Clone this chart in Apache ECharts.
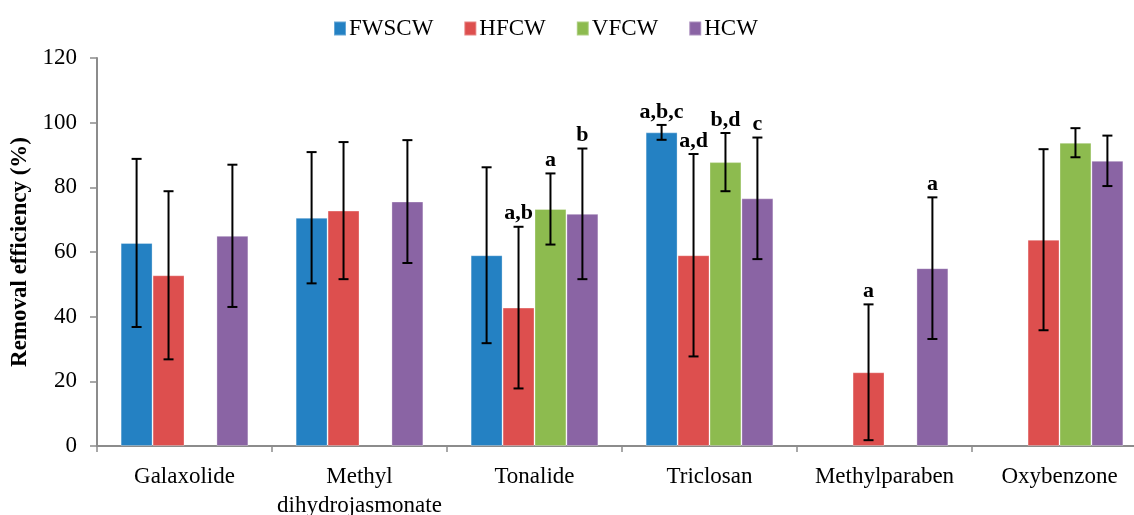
<!DOCTYPE html>
<html>
<head>
<meta charset="utf-8">
<script src="https://cdn.jsdelivr.net/npm/echarts@6/dist/echarts.min.js"></script>
<style>html,body{margin:0;padding:0;background:#fff;overflow:hidden;}#chart{width:1134px;height:515px;}</style>
</head>
<body>
<div id="chart"></div>
<script>
// ---- data ----
var categories = ['Galaxolide', 'Methyl\ndihydrojasmonate', 'Tonalide', 'Triclosan', 'Methylparaben', 'Oxybenzone'];
var seriesNames = ['FWSCW', 'HFCW', 'VFCW', 'HCW'];
var fwscw = [62.8, 70.6, 59, 97, null, null];
var hfcw  = [52.8, 72.8, 42.8, 59, 22.8, 63.8];
var vfcw  = [null, null, 73.3, 87.8, null, 93.8];
var hcw   = [65, 75.6, 71.8, 76.6, 55, 88.2];
var fwscwErr = [26, 20.3, 27.2, 2.3, null, null];
var hfcwErr  = [26, 21.2, 25, 31.3, 21, 28];
var vfcwErr  = [null, null, 11, 9, null, 4.5];
var hcwErr   = [22, 19, 20.2, 18.8, 21.9, 7.8];
var fwscwSig = ['', '', '', 'a,b,c', '', ''];
var hfcwSig  = ['', '', 'a,b', 'a,d', 'a', ''];
var vfcwSig  = ['', '', 'a', 'b,d', '', ''];
var hcwSig   = ['', '', 'b', 'c', 'a', ''];
var yTicks = [0, 20, 40, 60, 80, 100, 120];

var colors = ['#2481c3', '#dd4f4e', '#8dbb4f', '#8a64a4'];
var values = [fwscw, hfcw, vfcw, hcw];
var errs = [fwscwErr, hfcwErr, vfcwErr, hcwErr];
var sigs = [fwscwSig, hfcwSig, vfcwSig, hcwSig];
var catGap = 0.27;
var serif = '"Liberation Serif", "Times New Roman", serif';

var series = [];
values.forEach(function (vals, si) {
  series.push({
    name: seriesNames[si],
    type: 'bar',
    data: vals,
    barGap: '0%',
    barCategoryGap: (catGap * 100) + '%',
    itemStyle: { color: colors[si], borderColor: 'rgba(255,255,255,0.3)', borderWidth: 1 },
    emphasis: { disabled: true }
  });
});

var errData = [];
values.forEach(function (vals, si) {
  vals.forEach(function (v, ci) {
    if (v == null || errs[si][ci] == null) return;
    errData.push([ci, si, v - errs[si][ci], v + errs[si][ci], sigs[si][ci]]);
  });
});

series.push({
  type: 'custom',
  name: 'err',
  data: errData,
  z: 10,
  clip: false,
  encode: { x: 0, y: [2, 3] },
  renderItem: function (params, api) {
    var ci = api.value(0), si = api.value(1);
    var lo = api.coord([ci, api.value(2)]);
    var hi = api.coord([ci, api.value(3)]);
    var band = api.size([1, 0])[0];
    var barW = band * (1 - catGap) / 4;
    var x = lo[0] + (si - 1.5) * barW;
    var cap = 5;
    var st = { stroke: '#000', lineWidth: 2 };
    var children = [
      { type: 'line', shape: { x1: x, y1: lo[1], x2: x, y2: hi[1] }, style: st },
      { type: 'line', shape: { x1: x - cap, y1: lo[1], x2: x + cap, y2: lo[1] }, style: st },
      { type: 'line', shape: { x1: x - cap, y1: hi[1], x2: x + cap, y2: hi[1] }, style: st }
    ];
    var lab = errData[params.dataIndex][4];
    if (lab) {
      children.push({
        type: 'text',
        style: {
          text: lab, x: x, y: hi[1] - 2,
          align: 'center', verticalAlign: 'bottom',
          font: 'bold 22px ' + serif, fill: '#000'
        }
      });
    }
    return { type: 'group', children: children };
  }
});

var chart = echarts.init(document.getElementById('chart'), null, { renderer: 'canvas', width: 1134, height: 515 });
chart.setOption({
  animation: false,
  backgroundColor: '#fff',
  legend: {
    data: seriesNames,
    left: 328, top: 12,
    itemWidth: 12, itemHeight: 14, itemGap: 30,
    icon: 'rect',
    textStyle: { fontFamily: serif, fontSize: 23, color: '#000', padding: [0, 0, 0, -2] }
  },
  grid: { left: 97, width: 1050, top: 58, height: 388, containLabel: false, outerBoundsMode: 'none' },
  xAxis: {
    type: 'category',
    data: categories,
    axisLine: { lineStyle: { color: '#8c8c8c', width: 2 } },
    axisTick: { show: true, length: 6, lineStyle: { color: '#8c8c8c', width: 1.5 } },
    axisLabel: { fontFamily: serif, fontSize: 23, color: '#000', margin: 16, lineHeight: 29, interval: 0 }
  },
  yAxis: {
    type: 'value',
    min: 0, max: 120, interval: 20,
    name: 'Removal efficiency (%)',
    nameLocation: 'middle',
    nameGap: 61,
    nameTextStyle: { fontFamily: serif, fontSize: 23, fontWeight: 'bold', color: '#000' },
    axisLine: { show: true, lineStyle: { color: '#8c8c8c', width: 2 } },
    axisTick: { show: true, length: 7, lineStyle: { color: '#8c8c8c', width: 1.5 } },
    splitLine: { show: false },
    axisLabel: {
      fontFamily: serif, fontSize: 23, color: '#000', margin: 20,
      formatter: function (v) { return yTicks.indexOf(v) >= 0 ? String(v) : ''; }
    }
  },
  series: series
});
</script>
</body>
</html>
